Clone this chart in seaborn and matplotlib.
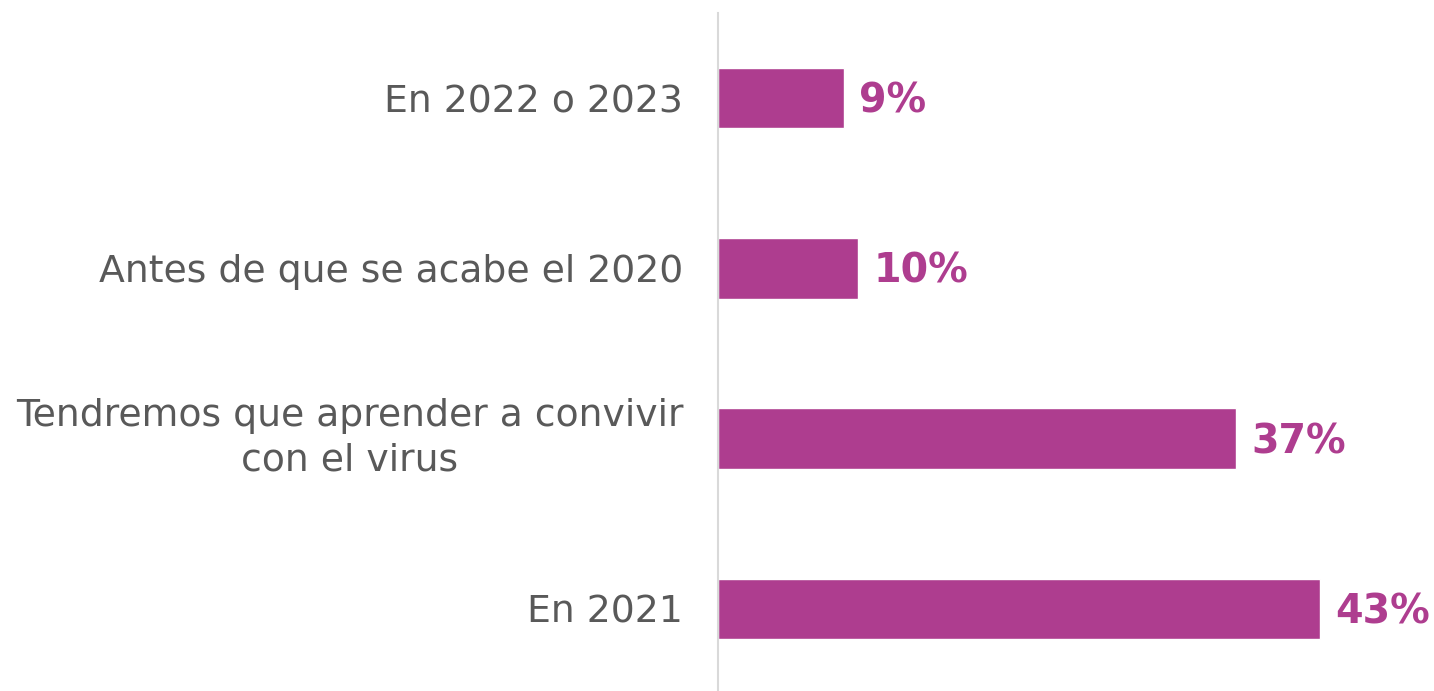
import matplotlib.pyplot as plt
import seaborn as sns
import pandas as pd

categories = [
    "En 2022 o 2023",
    "Antes de que se acabe el 2020",
    "Tendremos que aprender a convivir\ncon el virus",
    "En 2021",
]
values = [9, 10, 37, 43]

bar_color = "#AE3D8F"
text_color = "#595959"

df = pd.DataFrame({"categoria": categories, "valor": values})

sns.set_theme(style="white")
plt.rcParams["font.family"] = ["DejaVu Sans"]

fig = plt.figure(figsize=(14.34, 6.91), dpi=100)
ax = fig.add_axes([718 / 1434, -3 / 691, 716 / 1434, 681 / 691])

sns.barplot(data=df, x="valor", y="categoria", orient="h", color=bar_color,
            saturation=1, width=0.355, ax=ax)

for i, v in enumerate(values):
    ax.text(v + 1.1, i + 0.02, f"{v}%", va="center", ha="left", color=bar_color,
            fontsize=28.5, fontweight="bold")

ax.set_xlim(0, 716 / 14)
ax.set_ylim(3.5, -0.5)
ax.set_xlabel("")
ax.set_ylabel("")
ax.set_xticks([])
ax.tick_params(axis="y", length=0, pad=25, labelsize=27.2, labelcolor=text_color)
for lbl in ax.get_yticklabels():
    if "\n" in lbl.get_text():
        lbl.set_multialignment("center")
        lbl.set_linespacing(1.3)
        lbl.set_verticalalignment("center")

for side in ["top", "right", "bottom"]:
    ax.spines[side].set_visible(False)
ax.spines["left"].set_color("#D9D9D9")
ax.spines["left"].set_linewidth(1.5)

fig.savefig("out.png", dpi=100)
